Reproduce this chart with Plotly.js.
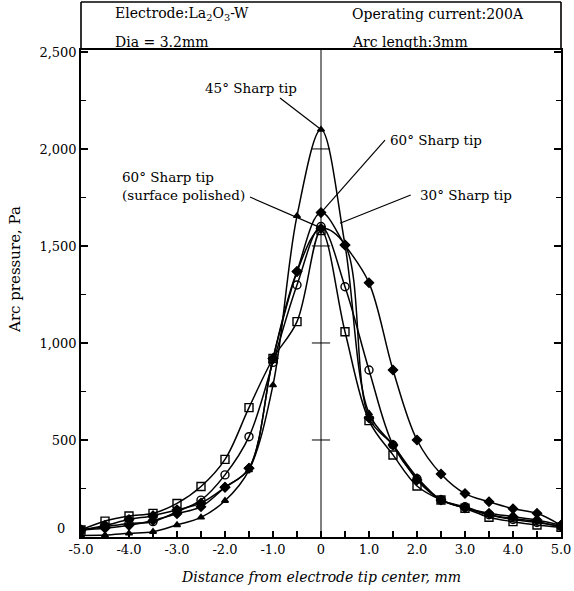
<!DOCTYPE html>
<html>
<head>
<meta charset="utf-8">
<script src="https://cdn.plot.ly/plotly-3.0.1.min.js"></script>
<style>html,body{margin:0;padding:0;background:#fff;}#chart{width:574px;height:591px;}</style>
</head>
<body>
<div id="chart"></div>
<script>
// Distance from electrode tip center, mm
var distance = [-5,-4.5,-4,-3.5,-3,-2.5,-2,-1.5,-1,-0.5,0,0.5,1,1.5,2,2.5,3,3.5,4,4.5,5];
// Arc pressure, Pa
var tip45 = [8,10,19,27,62,101,187,345,783,1655,2100,1505,637,474,308,191,150,115,95,80,50];
var tip60 = [36,45,60,85,120,156,256,354,920,1368,1672,1505,1310,861,500,325,224,182,146,122,60];
var tip60Polished = [36,60,90,110,140,175,256,354,920,1368,1590,1505,613,474,294,191,150,122,105,88,60];
var tip30Square = [36,82,108,122,173,260,400,667,920,1110,1580,1058,600,423,263,191,148,102,79,62,50];
var tip30Circle = [36,53,70,79,131,190,320,517,900,1299,1600,1290,861,474,300,191,156,115,90,75,55];

var xTickVals = [-5,-4,-3,-2,-1,0,1,2,3,4,5];
var xTickText = ["-5.0","-4.0","-3.0","-2.0","-1.0","0","1.0","2.0","3.0","4.0","5.0"];
var yTickVals = [500,1000,1500,2000,2500];
var yTickText = ["500","1,000","1,500","2,000","2,500"];
var crossLevels = [500,1000,1500,2000];

var FONT = "DejaVu Serif, Liberation Serif, serif";

function series(y, sym, size){
  return {x: distance, y: y, type: 'scatter', mode: 'lines+markers',
    line: {color: '#000', width: 1.5, shape: 'spline', smoothing: 1},
    marker: {symbol: sym, size: size, color: '#000', line: {color: '#000', width: 1.4}},
    hoverinfo: 'skip', showlegend: false};
}

var data = [
  series(tip30Square, 'square-open', 8),
  series(tip30Circle, 'circle-open', 8),
  series(tip60Polished, 'diamond', 7),
  series(tip60, 'diamond', 7),
  series(tip45, 'triangle-up', 6)
];

var shapes = [
  {type:'line', xref:'x', yref:'y', x0:0, x1:0, y0:0, y1:2510, line:{color:'#000', width:1}},
  // header box
  {type:'line', xref:'paper', yref:'paper', x0:0, x1:0, y0:1, y1:1.0986, line:{color:'#000', width:1.6}},
  {type:'line', xref:'paper', yref:'paper', x0:1, x1:1, y0:1, y1:1.0986, line:{color:'#000', width:1.6}},
  {type:'line', xref:'paper', yref:'paper', x0:0, x1:1, y0:1.0986, y1:1.0986, line:{color:'#000', width:1.6}},
  // label leader lines
  {type:'line', xref:'x', yref:'y', x0:-0.854, y0:2263, x1:0, y1:2100, line:{color:'#000', width:1.2}},
  {type:'line', xref:'x', yref:'y', x0:1.333, y0:2046, x1:0, y1:1672, line:{color:'#000', width:1.2}},
  {type:'line', xref:'x', yref:'y', x0:1.869, y0:1763, x1:0.396, y1:1617, line:{color:'#000', width:1.2}},
  {type:'line', xref:'x', yref:'y', x0:-1.479, y0:1752, x1:0, y1:1593, line:{color:'#000', width:1.2}}
];
crossLevels.forEach(function(v){
  shapes.push({type:'line', xref:'x', yref:'y', x0:-0.19, x1:0.19, y0:v, y1:v, line:{color:'#000', width:1}});
});

var annFont = {family: FONT, size: 13.5, color: '#000'};
var hdrFont = {family: FONT, size: 14, color: '#000'};
var annotations = [
  {xref:'paper', yref:'paper', x:0.066, y:1.073, xanchor:'left', yanchor:'middle', showarrow:false,
   text:'Electrode:La<sub>2</sub>O<sub>3</sub>-W', font:hdrFont},
  {xref:'paper', yref:'paper', x:0.066, y:1.017, xanchor:'left', yanchor:'middle', showarrow:false,
   text:'Dia = 3.2mm', font:hdrFont},
  {xref:'paper', yref:'paper', x:0.56, y:1.073, xanchor:'left', yanchor:'middle', showarrow:false,
   text:'Operating current:200A', font:hdrFont},
  {xref:'paper', yref:'paper', x:0.56, y:1.017, xanchor:'left', yanchor:'middle', showarrow:false,
   text:'Arc length:3mm', font:hdrFont},
  {xref:'x', yref:'y', x:-1.458, y:2314, showarrow:false, text:'45° Sharp tip', font:annFont},
  {xref:'x', yref:'y', x:2.396, y:2046, showarrow:false, text:'60° Sharp tip', font:annFont},
  {xref:'x', yref:'y', x:3.02, y:1763, showarrow:false, text:'30° Sharp tip', font:annFont},
  {xref:'x', yref:'y', x:-4.19, y:1809, xanchor:'left', align:'left', showarrow:false,
   text:'60° Sharp tip<br>(surface polished)', font:annFont},
  {xref:'paper', yref:'paper', x:-0.03, y:0.018, xanchor:'right', yanchor:'middle', showarrow:false,
   text:'0', font:{family:FONT, size:13, color:'#000'}},
  {xref:'paper', yref:'paper', x:0.5, y:-0.082, xanchor:'center', yanchor:'middle', showarrow:false,
   text:'<i>Distance from electrode tip center, mm</i>', font:{family:FONT, size:14, color:'#000'}},
  {xref:'paper', yref:'paper', x:-0.138, y:0.55, xanchor:'center', yanchor:'middle', showarrow:false, textangle:-90,
   text:'Arc pressure, Pa', font:{family:FONT, size:15, color:'#000'}}
];

var layout = {
  width: 574, height: 591,
  margin: {l:81, r:13, t:50, b:54},
  paper_bgcolor: '#fff', plot_bgcolor: '#fff',
  font: {family: FONT, size: 13, color: '#000'},
  xaxis: {range:[-5,5], tickvals:xTickVals, ticktext:xTickText, ticks:'inside', ticklen:6, tickwidth:1.2,
    tickcolor:'#000', showline:true, linecolor:'#000', linewidth:1.8, mirror:true, showgrid:false, zeroline:false,
    minor:{dtick:0.5, tick0:0, ticks:'inside', ticklen:6, tickwidth:1.2, tickcolor:'#000', showgrid:false},
    tickfont:{family:FONT, size:13, color:'#000'}, fixedrange:true},
  yaxis: {range:[0,2510], tickvals:yTickVals, ticktext:yTickText, ticks:'inside', ticklen:7, tickwidth:1.2,
    tickcolor:'#000', showline:true, linecolor:'#000', linewidth:1.8, mirror:'ticks', showgrid:false, zeroline:false,
    minor:{dtick:250, tick0:0, ticks:'inside', ticklen:5, tickwidth:1.2, tickcolor:'#000', showgrid:false},
    tickfont:{family:FONT, size:13, color:'#000'}, fixedrange:true},
  shapes: shapes,
  annotations: annotations
};

Plotly.newPlot('chart', data, layout, {displayModeBar:false, staticPlot:true});
</script>
</body>
</html>
